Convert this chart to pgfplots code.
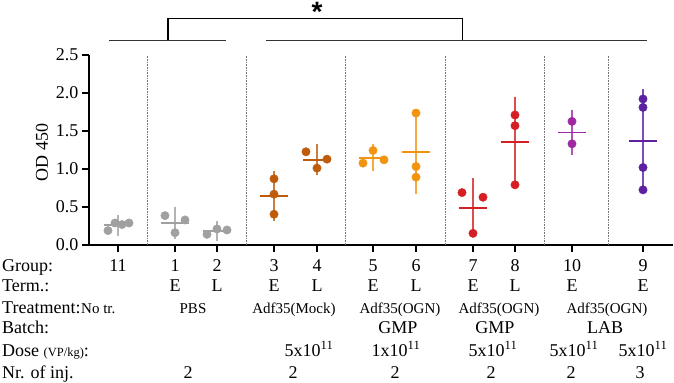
\documentclass[border=0pt]{standalone}
\usepackage{pgfplots}
\pgfplotsset{compat=1.18}
\usepackage{fontspec}
\setmainfont{Liberation Serif}
\setsansfont{Liberation Sans}

\definecolor{cgrey}{RGB}{160,160,160}
\definecolor{cbrown}{RGB}{190,92,12}
\definecolor{corange}{RGB}{242,148,16}
\definecolor{cred}{RGB}{212,32,36}
\definecolor{cmagenta}{RGB}{160,40,160}
\definecolor{cindigo}{RGB}{92,32,160}

\newcommand{\rowfont}{\fontsize{18}{21}\selectfont}
\newcommand{\namefont}{\fontsize{15}{18}\selectfont}

\pgfplotsset{
  meanbar/.style={only marks, color=#1, mark=-, mark size=14pt,
    mark options={line width=1.8pt},
    error bars/.cd, y dir=both, y explicit,
    error bar style={line width=1.4pt, color=#1!80!white},
    error mark options={mark size=7pt, line width=1.4pt, color=#1!80!white}},
  dots/.style={only marks, color=#1, mark=*, mark size=4.2pt,
    mark options={draw=none, fill=#1}},
}

\begin{document}
\begin{tikzpicture}
\begin{axis}[
  scale only axis, width=584pt, height=190pt,
  xmin=89, xmax=673, ymin=0, ymax=2.5,
  axis x line*=bottom, axis y line*=left,
  axis line style={line width=1.6pt, -},
  xtick={118,175,217,274,317,373,416,473,515,572,643},
  xticklabels={},
  ytick={0,0.5,1,1.5,2,2.5},
  tick style={line width=1.6pt, black},
  tick align=outside, major tick length=7pt,
  yticklabel style={font=\rowfont, /pgf/number format/.cd, fixed, fixed zerofill, precision=1, assume math mode=true},
  clip=false,
]
% group separators
\foreach \sx in {147,246,345,445,544,608}{
  \edef\tmp{\noexpand\draw[black!55, line width=0.8pt, dash pattern=on 0.7pt off 0.9pt] (axis cs:\sx,0) -- (axis cs:\sx,2.5);}
  \tmp
}

% mean +- SD
\addplot[meanbar=cgrey] coordinates {(118,0.260) +- (0,0.048) (175,0.293) +- (0,0.117) (217,0.183) +- (0,0.037)};
\addplot[meanbar=cbrown] coordinates {(274,0.648) +- (0,0.234) (317,1.123) +- (0,0.108)};
\addplot[meanbar=corange] coordinates {(373,1.148) +- (0,0.086) (416,1.221) +- (0,0.452)};
\addplot[meanbar=cred] coordinates {(473,0.491) +- (0,0.293) (515,1.358) +- (0,0.495)};
\addplot[meanbar=cmagenta] coordinates {(572,1.480) +- (0,0.209)};
\addplot[meanbar=cindigo] coordinates {(643,1.370) +- (0,0.588)};

% individual values
\addplot[dots=cgrey] coordinates {(108,0.19) (115,0.29) (122,0.27) (129,0.29)
  (165,0.387) (185,0.330) (175,0.162)
  (207,0.141) (217,0.211) (227,0.198)};
\addplot[dots=cbrown] coordinates {(274,0.871) (274,0.669) (274,0.405)
  (306,1.227) (327,1.130) (317,1.012)};
\addplot[dots=corange] coordinates {(373,1.244) (363,1.078) (384,1.121)
  (416,1.737) (416,1.033) (416,0.893)};
\addplot[dots=cred] coordinates {(462,0.690) (483,0.629) (473,0.154)
  (515,1.711) (515,1.570) (515,0.792)};
\addplot[dots=cmagenta] coordinates {(572,1.627) (572,1.332)};
\addplot[dots=cindigo] coordinates {(643,1.922) (643,1.811) (643,1.020) (643,0.726)};

% y label
\node[rotate=90, font=\rowfont] at (axis cs:42,1.22) {OD 450};

% significance bracket
\draw[black!80, line width=1pt] (axis cs:109,2.697) -- (axis cs:226,2.697);
\draw[black!80, line width=1pt] (axis cs:266,2.697) -- (axis cs:647,2.697);
\draw[black, line width=1pt] (axis cs:168,2.697) -- (axis cs:168,2.974) -- (axis cs:462,2.974) -- (axis cs:462,2.697);
\node[font=\fontsize{28}{28}\selectfont\sffamily\bfseries, inner sep=0pt, anchor=north] at (axis cs:317,3.20) {*};

% row headings
\node[anchor=base west, font=\rowfont, inner sep=0pt] at (axis cs:2,-0.342) {Group:};
\node[anchor=base west, font=\rowfont, inner sep=0pt] at (axis cs:2,-0.618) {Term.:};
\node[anchor=base west, font=\rowfont, inner sep=0pt] at (axis cs:2,-0.895) {Treatment:};
\node[anchor=base west, font=\rowfont, inner sep=0pt] at (axis cs:2,-1.158) {Batch:};
\node[anchor=base west, font=\rowfont, inner sep=0pt] at (axis cs:2,-1.461) {Dose {\fontsize{12.5}{14}\selectfont (VP/kg)}:};
\node[anchor=base west, font=\rowfont, inner sep=0pt] at (axis cs:2,-1.750) {Nr. of inj.};

% group numbers
\foreach \gx/\gl in {118/11,175/1,217/2,274/3,317/4,373/5,416/6,473/7,515/8,572/10,643/9}{
  \edef\tmp{\noexpand\node[anchor=base, font=\noexpand\rowfont, inner sep=0pt] at (axis cs:\gx,-0.342) {\gl};}
  \tmp
}
% termination
\foreach \gx/\gl in {175/E,217/L,274/E,317/L,373/E,416/L,473/E,515/L,572/E,643/E}{
  \edef\tmp{\noexpand\node[anchor=base, font=\noexpand\rowfont, inner sep=0pt] at (axis cs:\gx,-0.618) {\gl};}
  \tmp
}
% treatment
\node[anchor=base west, font=\namefont, inner sep=0pt] at (axis cs:81,-0.895) {No tr.};
\node[anchor=base, font=\namefont, inner sep=0pt] at (axis cs:193,-0.895) {PBS};
\node[anchor=base, font=\namefont, inner sep=0pt] at (axis cs:294,-0.895) {Adf35(Mock)};
\node[anchor=base, font=\namefont, inner sep=0pt] at (axis cs:400,-0.895) {Adf35(OGN)};
\node[anchor=base, font=\namefont, inner sep=0pt] at (axis cs:499,-0.895) {Adf35(OGN)};
\node[anchor=base, font=\namefont, inner sep=0pt] at (axis cs:607,-0.895) {Adf35(OGN)};
% batch
\node[anchor=base, font=\rowfont, inner sep=0pt] at (axis cs:398,-1.158) {GMP};
\node[anchor=base, font=\rowfont, inner sep=0pt] at (axis cs:495,-1.158) {GMP};
\node[anchor=base, font=\rowfont, inner sep=0pt] at (axis cs:605,-1.158) {LAB};
% dose
\node[anchor=base, font=\rowfont, inner sep=0pt] at (axis cs:309,-1.461) {5x10\textsuperscript{11}};
\node[anchor=base, font=\rowfont, inner sep=0pt] at (axis cs:396,-1.461) {1x10\textsuperscript{11}};
\node[anchor=base, font=\rowfont, inner sep=0pt] at (axis cs:493,-1.461) {5x10\textsuperscript{11}};
\node[anchor=base, font=\rowfont, inner sep=0pt] at (axis cs:574,-1.461) {5x10\textsuperscript{11}};
\node[anchor=base, font=\rowfont, inner sep=0pt] at (axis cs:643,-1.461) {5x10\textsuperscript{11}};
% injections
\node[anchor=base, font=\rowfont, inner sep=0pt] at (axis cs:188,-1.750) {2};
\node[anchor=base, font=\rowfont, inner sep=0pt] at (axis cs:293,-1.750) {2};
\node[anchor=base, font=\rowfont, inner sep=0pt] at (axis cs:395,-1.750) {2};
\node[anchor=base, font=\rowfont, inner sep=0pt] at (axis cs:491,-1.750) {2};
\node[anchor=base, font=\rowfont, inner sep=0pt] at (axis cs:571,-1.750) {2};
\node[anchor=base, font=\rowfont, inner sep=0pt] at (axis cs:640,-1.750) {3};

\coordinate (bbA) at (axis cs:0,3.224);
\coordinate (bbB) at (axis cs:674,-1.803);
\end{axis}
\pgfresetboundingbox
\path[use as bounding box] (bbA) rectangle (bbB);
\end{tikzpicture}
\end{document}
